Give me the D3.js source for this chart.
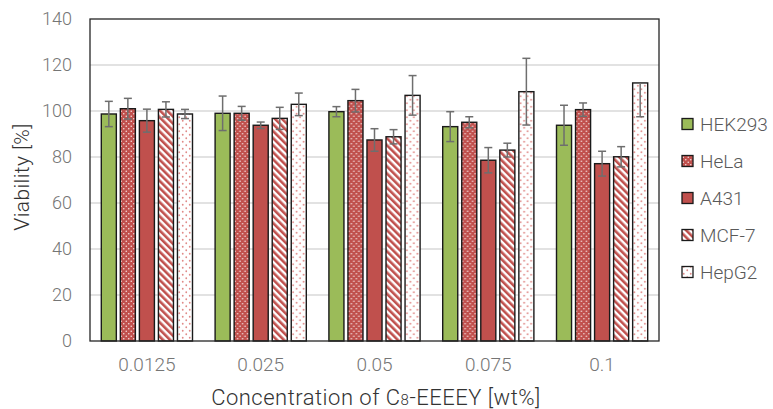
<!DOCTYPE html>
<html><head><meta charset="utf-8">
<script src="https://cdn.jsdelivr.net/npm/d3@7"></script>
<style>
body{margin:0;background:#fff;}
text{font-family:Roboto,sans-serif;font-weight:300;}
</style></head>
<body><svg id="c" width="773" height="409"></svg>
<script>
const categories = ["0.0125","0.025","0.05","0.075","0.1"];
const seriesNames = ["HEK293","HeLa","A431","MCF-7","HepG2"];
const hek293 = [98.7, 99.0, 99.7, 93.2, 93.8];
const hela   = [101.0, 99.0, 104.5, 95.1, 100.6];
const a431   = [95.8, 93.8, 87.4, 78.6, 77.1];
const mcf7   = [100.7, 96.8, 88.8, 83.0, 80.1];
const hepg2  = [98.7, 102.9, 106.8, 108.4, 112.2];
const errHek293 = [5.5, 7.5, 2.2, 6.5, 8.7];
const errHela   = [4.5, 3.0, 4.9, 2.4, 2.9];
const errA431   = [5.0, 1.4, 4.9, 5.5, 5.4];
const errMcf7   = [3.3, 4.8, 3.1, 3.0, 4.4];
const errHepg2Low  = [2.0, 4.9, 8.6, 14.5, 14.7];
const errHepg2High = [2.0, 4.9, 8.6, 14.5, 0];
const yTicks = [0,20,40,60,80,100,120,140];

const series = [
  {name:"HEK293", vals:hek293, lo:errHek293, hi:errHek293, fill:"#9BBB59"},
  {name:"HeLa", vals:hela, lo:errHela, hi:errHela, fill:"url(#pHela)"},
  {name:"A431", vals:a431, lo:errA431, hi:errA431, fill:"#C0504D"},
  {name:"MCF-7", vals:mcf7, lo:errMcf7, hi:errMcf7, fill:"url(#pMcf)"},
  {name:"HepG2", vals:hepg2, lo:errHepg2Low, hi:errHepg2High, fill:"url(#pHep)"}
];

const svg = d3.select("#c");
const L=90, R=659, T=19, B=341;
const FONT = "Roboto,sans-serif";

const defs = svg.append("defs");
let p = defs.append("pattern").attr("id","pHela").attr("patternUnits","userSpaceOnUse").attr("width",5).attr("height",5);
p.append("rect").attr("width",5).attr("height",5).attr("fill","#C0504D");
p.append("circle").attr("cx",1.25).attr("cy",1.25).attr("r",0.8).attr("fill","#f4dcdc");
p.append("circle").attr("cx",3.75).attr("cy",3.75).attr("r",0.8).attr("fill","#f4dcdc");
p = defs.append("pattern").attr("id","pMcf").attr("patternUnits","userSpaceOnUse").attr("width",5).attr("height",5).attr("patternTransform","rotate(-45)");
p.append("rect").attr("width",5).attr("height",5).attr("fill","#ffffff");
p.append("rect").attr("width",2.6).attr("height",5).attr("fill","#C0504D");
p = defs.append("pattern").attr("id","pHep").attr("patternUnits","userSpaceOnUse").attr("width",7).attr("height",7);
p.append("rect").attr("width",7).attr("height",7).attr("fill","#ffffff");
p.append("circle").attr("cx",1.75).attr("cy",1.75).attr("r",0.9).attr("fill","#e08a88");
p.append("circle").attr("cx",5.25).attr("cy",5.25).attr("r",0.9).attr("fill","#e08a88");

const x0 = d3.scaleBand().domain(categories).range([L,R]).padding(0);
const x1 = d3.scaleBand().domain(seriesNames).range([9.4, x0.bandwidth()-9.4]).paddingInner(0.21).paddingOuter(0.1);
const y = d3.scaleLinear().domain([0,140]).range([B,T]);

svg.append("g").selectAll("line").data(yTicks.filter(t=>t>0&&t<140)).join("line")
  .attr("x1",L).attr("x2",R).attr("y1",d=>y(d)).attr("y2",d=>y(d))
  .attr("stroke","#d9d9d9").attr("stroke-width",1.5);

const yAxis = d3.axisLeft(y).tickValues(yTicks).tickSize(0).tickPadding(18);
const ya = svg.append("g").attr("transform",`translate(${L},0)`).call(yAxis);
ya.select(".domain").remove();
ya.selectAll("text").attr("font-size",18).attr("fill","#757575").style("font-family",FONT).style("font-weight",300);

const xAxis = d3.axisBottom(x0).tickSize(0).tickPadding(17);
const xa = svg.append("g").attr("transform",`translate(0,${B})`).call(xAxis);
xa.select(".domain").remove();
xa.selectAll("text").attr("font-size",19).attr("fill","#757575").style("font-family",FONT).style("font-weight",300);

const groups = svg.append("g").selectAll("g").data(categories).join("g")
  .attr("transform",d=>`translate(${x0(d)},0)`);
series.forEach(s=>{
  groups.append("rect")
    .attr("x",x1(s.name)).attr("width",x1.bandwidth())
    .attr("y",(d,i)=>y(s.vals[i])).attr("height",(d,i)=>B-y(s.vals[i]))
    .attr("fill",s.fill).attr("stroke","#1a1a1a").attr("stroke-width",1.4);
});
series.forEach(s=>{
  const cx = x1(s.name)+x1.bandwidth()/2;
  groups.each(function(d,i){
    const g = d3.select(this);
    const top = y(s.vals[i]+s.hi[i]), bot = y(s.vals[i]-s.lo[i]);
    g.append("line").attr("x1",cx).attr("x2",cx).attr("y1",top).attr("y2",bot).attr("stroke","#6e6e6e").attr("stroke-width",1.5);
    if(s.hi[i]>0) g.append("line").attr("x1",cx-4).attr("x2",cx+4).attr("y1",top).attr("y2",top).attr("stroke","#6e6e6e").attr("stroke-width",1.5);
    g.append("line").attr("x1",cx-4).attr("x2",cx+4).attr("y1",bot).attr("y2",bot).attr("stroke","#6e6e6e").attr("stroke-width",1.5);
  });
});

svg.append("rect").attr("x",L).attr("y",T).attr("width",R-L).attr("height",B-T)
  .attr("fill","none").attr("stroke","#262626").attr("stroke-width",1.3);

const lg = svg.append("g").selectAll("g").data(series).join("g")
  .attr("transform",(d,i)=>`translate(682,${124+i*37})`);
lg.append("rect").attr("x",0).attr("y",-5.5).attr("width",11).attr("height",11)
  .attr("fill",d=>d.fill).attr("stroke","#1a1a1a").attr("stroke-width",1.3);
lg.append("text").attr("x",18).attr("y",6.5).attr("font-size",19).attr("fill","#595959").text(d=>d.name);

svg.append("text").attr("transform","translate(29,177) rotate(-90)").attr("text-anchor","middle")
  .attr("font-size",21).attr("letter-spacing",0.4).attr("fill","#333333").text("Viability [%]");
const xt = svg.append("text").attr("x",376).attr("y",405).attr("text-anchor","middle")
  .attr("font-size",22).attr("letter-spacing",0.5).attr("fill","#333333");
xt.append("tspan").text("Concentration of C");
xt.append("tspan").attr("font-size",15).text("8");
xt.append("tspan").text("-EEEEY [wt%]");
</script></body></html>
